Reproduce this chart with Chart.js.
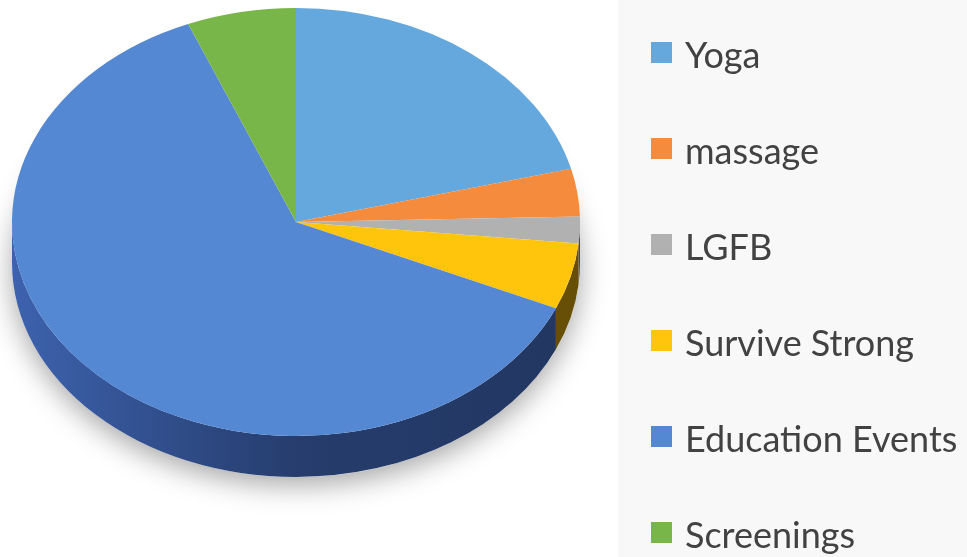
<!DOCTYPE html>
<html>
<head>
<meta charset="utf-8">
<script src="https://cdn.jsdelivr.net/npm/chart.js@4.4.1/dist/chart.umd.min.js"></script>
<style>
  html, body { margin: 0; padding: 0; background: #fff; }
  #wrap { width: 967px; height: 557px; position: relative; }
</style>
</head>
<body>
<div id="wrap"><canvas id="pie"></canvas></div>
<script>
let labels = ['Yoga', 'massage', 'LGFB', 'Survive Strong', 'Education Events', 'Screenings'];
let shares = [21, 3.6, 2, 5, 62.2, 6.2];
let colors = ['#65a8de', '#f58b3c', '#b1b1b1', '#ffc40c', '#5588d2', '#79b649'];

const DEPTH = 41;


function shade(hex, f) {
    let n = parseInt(hex.slice(1), 16);
    let r = Math.round(((n >> 16) & 255) * f);
    let g = Math.round(((n >> 8) & 255) * f);
    let b = Math.round((n & 255) * Math.min(1, f * 1.15));
    return `rgb(${r}, ${g}, ${b})`;
}


// the squashed disc, worked out from the arcs chart.js has laid out
function pieShape(chart) {
    let arc = chart.getDatasetMeta(0).data[0];
    let area = chart.chartArea;
    return {
        x: arc.x,
        y: arc.y,
        r: arc.outerRadius,
        rx: area.width / 2,
        ry: arc.outerRadius
    };
}


const pie3d = {
    id: 'pie3d',
    beforeDatasetsDraw(chart) {
        const ctx = chart.ctx;
        const p = pieShape(chart);
        const arcs = chart.getDatasetMeta(0).data;

        // soft shadow under the disc
        ctx.save();
        ctx.shadowColor = 'rgba(0, 0, 0, 0.35)';
        ctx.shadowBlur = 28;
        ctx.shadowOffsetY = 8;
        ctx.fillStyle = '#ffffff';
        ctx.beginPath();
        ctx.ellipse(p.x, p.y + DEPTH, p.rx, p.ry, 0, 0, Math.PI * 2);
        ctx.fill();
        ctx.restore();

        // front walls of every slice that faces the viewer
        arcs.forEach((arc, i) => {
            let s = Math.max(arc.startAngle, 0);
            let e = Math.min(arc.endAngle, Math.PI);
            if (e <= s) return;
            let c = chart.data.datasets[0].backgroundColor[i];
            let grad = ctx.createLinearGradient(p.x - p.rx, 0, p.x + p.rx, 0);
            grad.addColorStop(0, shade(c, 0.72));
            grad.addColorStop(0.5, shade(c, 0.45));
            grad.addColorStop(1, shade(c, 0.4));
            ctx.save();
            ctx.fillStyle = grad;
            ctx.beginPath();
            ctx.ellipse(p.x, p.y, p.rx, p.ry, 0, s, e);
            ctx.ellipse(p.x, p.y + DEPTH, p.rx, p.ry, 0, e, s, true);
            ctx.closePath();
            ctx.fill();
            ctx.restore();
        });

        // squash the round pie into an ellipse for the top face
        ctx.save();
        ctx.translate(p.x, p.y);
        ctx.scale(p.rx / p.r, 1);
        ctx.translate(-p.x, -p.y);
    },
    afterDatasetsDraw(chart) {
        chart.ctx.restore();
    }
};


const sideLegend = {
    id: 'sideLegend',
    beforeDraw(chart) {
        const ctx = chart.ctx;
        ctx.save();
        ctx.fillStyle = '#f8f8f8';
        ctx.fillRect(618, 0, chart.width - 618, chart.height);
        ctx.restore();
    },
    afterDraw(chart) {
        const ctx = chart.ctx;
        const ds = chart.data.datasets[0];
        ctx.save();
        ctx.font = '36px Lato';
        ctx.textBaseline = 'alphabetic';
        chart.data.labels.forEach((label, i) => {
            let cy = 52.5 + i * 96;
            ctx.fillStyle = ds.backgroundColor[i];
            ctx.fillRect(651, cy - 10.5, 21, 21);
            ctx.fillStyle = '#424242';
            ctx.fillText(label, 685, cy + 15.5);
        });
        ctx.restore();
    }
};


const ctx = document.getElementById('pie');
new Chart(ctx, {
    type: 'pie',
    data: {
        labels: labels,
        datasets: [
            {
                data: shares,
                backgroundColor: colors,
                borderWidth: 0
            }
        ]
    },
    options: {
        responsive: true,
        maintainAspectRatio: false,
        animation: false,
        layout: {
            padding: { left: 12, right: 387, top: 8, bottom: 121 }
        },
        plugins: {
            legend: { display: false },
            tooltip: { enabled: false }
        }
    },
    plugins: [pie3d, sideLegend]
});
</script>
</body>
</html>
